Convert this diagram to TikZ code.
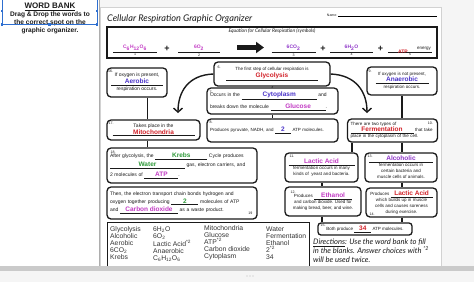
\documentclass[tikz,border=0pt]{standalone}
\usepackage{fontspec}
\setmainfont{Liberation Sans}
\newfontfamily\handfont{Lato}
\usetikzlibrary{arrows.meta,positioning,calc}
\definecolor{ink}{HTML}{1A1A1A}
\definecolor{red}{HTML}{D2232A}
\definecolor{blue}{HTML}{4A33C9}
\definecolor{pink}{HTML}{C23BC4}
\definecolor{purple}{HTML}{8E35C8}
\definecolor{green}{HTML}{2F9A3A}
\definecolor{gray}{HTML}{8A8A8A}
\definecolor{linegray}{HTML}{D2D2D2}
\definecolor{light}{HTML}{F5F5F5}
\definecolor{select}{HTML}{2E6FD0}
\newcommand{\fillin}[4][6.5]{\underline{\makebox[#2]{\textcolor{#3}{\fontsize{#1}{#1}\selectfont\bfseries #4}}}}
\tikzset{
  every node/.style={font=\fontsize{5}{6.5}\selectfont, text=ink},
  box/.style={draw=ink, rounded corners=4pt, line width=1.3pt, fill=white, align=center, inner xsep=3pt, inner ysep=1pt},
  textbox/.style={box, align=left},
  smallbox/.style={font=\fontsize{4.5}{6}\selectfont},
  numlabel/.style={font=\fontsize{3.6}{4}\selectfont, inner sep=0pt, anchor=north west},
  link/.style={draw=ink, line width=1.3pt},
  bendarrow/.style={-{Straight Barb[length=4pt,width=9pt]}, line width=1.4pt, draw=ink},
  fatarrow/.style={-{Triangle[length=8pt,width=11pt]}, line width=4.5pt, draw=ink},
  eqsign/.style={font=\fontsize{9}{9}\selectfont\bfseries},
  banktext/.style={font=\fontsize{6.8}{7}\selectfont, align=left, anchor=north west, inner sep=0pt, text=black!80},
  handtext/.style={font=\handfont\itshape\fontsize{7.6}{9}\selectfont, align=left, inner sep=0pt},
  headtext/.style={font=\fontsize{6.6}{8}\selectfont\bfseries, inner sep=0pt},
}
\begin{document}
\begin{tikzpicture}[x=1pt, y=-1pt]
\useasboundingbox (0,0) rectangle (474,282);
% page
\fill[light] (441,0) rectangle (474,266);
\fill[light] (100,0) rectangle (441,7);
\draw[linegray, line width=0.6pt] (100,7) rectangle (441,266);
\draw[gray!70, line width=1pt] (99,0) -- (99,266);
% word bank panel
\node[headtext, font=\fontsize{8}{9}\selectfont\bfseries] (wbhead) at (50,6.5) {\underline{WORD BANK}};
\node[headtext, align=center, anchor=north] (dragtext) at (50,11.8) {Drag \& Drop the words to\\ the correct spot on the\\ graphic organizer.};
\draw[select, line width=0.8pt] (2,-2) rectangle (97,24.5);
\foreach \hx/\hy in {2/11, 97/11, 2/24.5, 49.5/24.5, 97/24.5}
  \fill[select] ({\hx-1.3},{\hy-1.3}) rectangle ++(2.6,2.6);
% title
\node[font=\handfont\itshape\fontsize{9.2}{10}\selectfont, anchor=west, inner sep=0pt] (title) at (107,19) {Cellular Respiration Graphic Organizer};
\node[font=\fontsize{3.5}{4}\selectfont, anchor=base east, inner sep=0.5pt] (name) at (338,16) {Name:};
\coordinate (nameend) at (437,16);
\draw[line width=0.5pt] (name.base east) -- (nameend);
% equation
\node[draw=ink, line width=1.4pt, minimum width=330pt, minimum height=31pt, inner sep=0pt] (eqbox) at (272,42.5) {};
\node[handtext, font=\handfont\itshape\fontsize{5}{6}\selectfont, below=2pt of eqbox.north] (eqtitle) {Equation for Cellular Respiration (symbols)};
\node[anchor=south, inner sep=0pt] (eq1) at (135,52.5) {\fillin[5]{44pt}{pink}{C\textsubscript{6}H\textsubscript{12}O\textsubscript{6}}};
\node[anchor=south, inner sep=0pt] (eq2) at (199,52.5) {\fillin[5]{42pt}{pink}{6O\textsubscript{2}}};
\node[anchor=south, inner sep=0pt] (eq3) at (293.5,52.5) {\fillin[5]{44pt}{purple}{6CO\textsubscript{2}}};
\node[anchor=south, inner sep=0pt] (eq4) at (351.5,52.5) {\fillin[5]{43pt}{purple}{6H\textsubscript{2}O}};
\node[anchor=south, inner sep=0pt] (eq5) at (410,52.5) {\fillin[5]{44pt}{red}{}};
\node[font=\fontsize{5}{5}\selectfont\bfseries, text=red, inner sep=0pt] (atp) at (403,51.5) {ATP};
\node[font=\fontsize{4.5}{5}\selectfont, anchor=south, inner sep=0.5pt] (energy) at (424,51) {energy};
\foreach \n/\lbl in {eq1/1, eq2/2, eq3/3, eq4/4, eq5/5}
  \node[numlabel, anchor=north] at ([yshift=-0.8pt]\n.south) {\lbl};
\node[eqsign] (p1) at (167,49) {+};
\node[eqsign] (p2) at (323,49) {+};
\node[eqsign] (p3) at (380.5,49) {+};
\coordinate (fatstart) at (237,47.5);
\coordinate (fatend) at (264,47.5);
\draw[fatarrow] (fatstart) -- (fatend);
% middle column
\node[box, smallbox, minimum width=116pt, minimum height=24pt] (glyco) at (272,74) {The first step of cellular respiration is\\[1pt] \fillin{92pt}{red}{Glycolysis}};
\node[textbox, text width=125pt, minimum height=26pt] (cyto) at (272.5,101) {Occurs in the \fillin{75pt}{blue}{Cytoplasm} and\\[3pt] breaks down the molecule \fillin{55pt}{pink}{Glucose}.};
\node[textbox, smallbox, text width=125pt, minimum height=23pt] (pyru) at (272.5,130.5) {Produces pyruvate, NADH, and \fillin{16pt}{blue}{2} ATP molecules.};
\draw[link] (glyco.south) -- (cyto.north);
\draw[link] (cyto.south) -- (pyru.north);
% left column
\node[box, minimum width=60pt, minimum height=29pt] (aer) at (137,82.5) {If oxygen is present,\\ \fillin{52pt}{blue}{Aerobic}\\[1pt] respiration occurs.};
\node[box, minimum width=93pt, minimum height=20pt] (mito) at (153.5,130) {Takes place in the\\ \fillin{82pt}{red}{Mitochondria}};
\node[textbox, text width=144pt, minimum height=35pt] (krebs) at (182,165.5) {After glycolysis, the \fillin{52pt}{green}{Krebs} Cycle produces\\[2pt] \fillin{75pt}{green}{Water} gas, electron carriers, and\\[2pt] 2 molecules of \fillin{34pt}{pink}{ATP}.};
\node[textbox, text width=144pt, minimum height=32pt] (etc) at (182,203) {Then, the electron transport chain bonds hydrogen and\\[1pt] oxygen together producing \fillin{27pt}{green}{2} molecules of ATP\\[1pt] and \fillin{58pt}{pink}{Carbon dioxide} as a waste product.};
\coordinate (spine) at (147.5,0);
\draw[link] (aer.south -| spine) -- (mito.north -| spine);
\draw[link] (mito.south -| spine) -- (krebs.north -| spine);
% right column
\node[box, smallbox, minimum width=70pt, minimum height=28pt] (anaer) at (402,81) {If oxygen is not present,\\ \fillin{53pt}{blue}{Anaerobic}\\[1pt] respiration occurs.};
\node[textbox, smallbox, text width=84pt, minimum height=23pt] (ferm) at (392.5,130.5) {There are two types of\\ \fillin{63pt}{red}{Fermentation} that take\\ place in the cytoplasm of the cell.};
\node[box, smallbox, minimum width=73pt, minimum height=29pt] (lactic) at (321.5,167.5) {\fillin{66pt}{pink}{Lactic Acid}\\ fermentation occurs in many\\ kinds of \ yeast and bacteria.};
\node[box, smallbox, minimum width=72pt, minimum height=29pt] (alco) at (401,167.5) {\fillin{64pt}{purple}{Alcoholic}\\ fermentation occurs in\\ certain bacteria and\\ muscle cells of animals.};
\node[box, smallbox, minimum width=76pt, minimum height=29pt] (ethanol) at (323,201.5) {Produces \fillin{38pt}{pink}{Ethanol}\\ and carbon dioxide. Used for\\ making bread, beer, and wine.};
\node[box, smallbox, minimum width=71pt, minimum height=29pt] (lactictwo) at (401.5,202.5) {Produces \fillin{42pt}{red}{Lactic Acid}\\ which builds up in muscle\\ cells and causes soreness\\ during exercise.};
\node[box, smallbox, rounded corners=3pt, minimum width=94pt, minimum height=12pt] (both) at (365,229) {Both produce \fillin{17pt}{red}{34} ATP molecules.};
\coordinate (rspine) at (402,0);
\coordinate (lspine) at (352,0);
\coordinate (mspine) at (322,0);
\draw[link] (anaer.south -| rspine) -- (ferm.north -| rspine);
\draw[link] (ferm.south -| rspine) -- (alco.north -| rspine);
\draw[link] (alco.south -| rspine) -- (lactictwo.north -| rspine);
\draw[link] (lactictwo.south -| rspine) -- (both.north -| rspine);
\draw[link] (ferm.south -| lspine) -- (lactic.north -| lspine);
\draw[link] (lactic.south -| mspine) -- (ethanol.north -| mspine);
\draw[link] (ethanol.south -| mspine) -- (both.north -| mspine);
% curved arrows
\coordinate (aertip) at (178,113);
\coordinate (anaertip) at (367,113);
\draw[bendarrow] (glyco.west) .. controls (188,75) and (178,92) .. (aertip);
\draw[bendarrow] (glyco.east) .. controls (356,75) and (367,92) .. (anaertip);
% numbers
\node[numlabel] at ([shift={(4pt,-4pt)}]glyco.north west) {6.};
\node[numlabel] at ([shift={(3pt,-3pt)}]cyto.north west) {7.};
\node[numlabel] at ([shift={(3pt,-2.5pt)}]pyru.north west) {8.};
\node[numlabel] at ([shift={(2pt,-3pt)}]anaer.north west) {9.};
\node[numlabel, anchor=north east] at ([shift={(-5pt,-3pt)}]ferm.north east) {10.};
\node[numlabel] at ([shift={(5pt,-2pt)}]lactic.north west) {11.};
\node[numlabel] at ([shift={(6pt,-4pt)}]ethanol.north west) {12.};
\node[numlabel] at ([shift={(3pt,-2pt)}]alco.north west) {13.};
\node[numlabel, anchor=south west] at ([shift={(4pt,2pt)}]lactictwo.south west) {14.};
\node[numlabel] at ([shift={(3pt,-1.5pt)}]both.north west) {15.};
\node[numlabel] at ([shift={(1.5pt,-2pt)}]aer.north west) {16.};
\node[numlabel] at ([shift={(2pt,-2pt)}]mito.north west) {17.};
\node[numlabel] at ([shift={(4pt,-3pt)}]krebs.north west) {18.};
\node[numlabel, anchor=south east] at ([shift={(-5pt,5pt)}]etc.south east) {19};
% word bank
\node[draw=ink, line width=0.8pt, minimum width=202pt, minimum height=48pt, anchor=north west, inner sep=0pt] (bank) at (107,222) {};
\node[banktext] (col1) at (110,226.5) {Glycolysis\\ Alcoholic\\ Aerobic\\ 6CO\textsubscript{2}\\ Krebs};
\node[banktext] (col2) at (153,226.5) {6H\textsubscript{2}O\\ 6O\textsubscript{2}\\ Lactic Acid\textsuperscript{*2}\\ Anaerobic\\ C\textsubscript{6}H\textsubscript{12}O\textsubscript{6}};
\node[banktext] (col3) at (204,225) {Mitochondria\\ Glucose\\ ATP\textsuperscript{*2}\\ Carbon dioxide\\ Cytoplasm};
\node[banktext] (col4) at (266,227) {Water\\ Fermentation\\ Ethanol\\ 2\textsuperscript{*2}\\ 34};
\node[handtext, anchor=north west] (directions) at (313,239) {\underline{Directions}: Use the word bank to fill\\ in the blanks. Answer choices with \textsuperscript{*2}\\ will be used twice.};
% bottom bar
\fill[gray!45] (0,266) rectangle (474,271);
\fill[light] (0,271) rectangle (474,282);
\foreach \dx in {-3,0,3}
  \fill[gray!60] ({250+\dx},276) circle (0.6);
\end{tikzpicture}
\end{document}
